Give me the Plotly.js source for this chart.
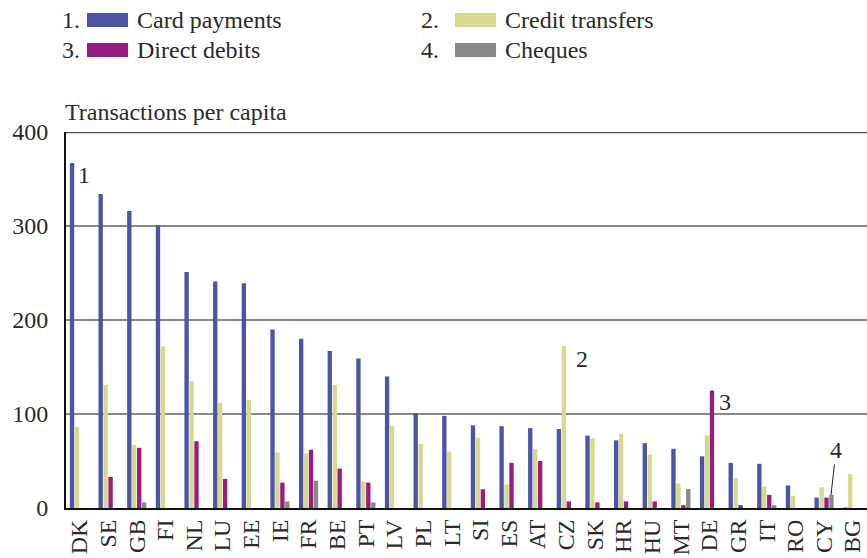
<!DOCTYPE html>
<html>
<head>
<meta charset="utf-8">
<script src="https://cdn.plot.ly/plotly-3.0.1.min.js"></script>
<style>html,body{margin:0;padding:0;background:#fff;}#chart{width:867px;height:558px;}</style>
</head>
<body>
<div id="chart"></div>
<script>
// ---- data ----
const countries = ["DK","SE","GB","FI","NL","LU","EE","IE","FR","BE","PT","LV","PL","LT","SI","ES","AT","CZ","SK","HR","HU","MT","DE","GR","IT","RO","CY","BG"];
const cardPayments    = [367,334,316,301,251,241,239,190,180,167,159,140,101,98,88,87,85,84,77,72,69,63,55,48,47,24,11,0.5];
const creditTransfers = [86,131,67,172,135,112,115,59,58,131,28,87,68,60,75,25,63,172,74,79,57,26,77,32,23,13,22,36];
const directDebits    = [0,33,64,0,71,31,0,27,62,42,27,0,0,0,20,48,50,7,6,7,7,3,125,3,14,0,11,0];
const cheques         = [0,0,6,0,0,0,0,7,29,0,6,0,0,0,0,0,0,0,0,0,0,20,0,0,3,0,14,0];
const seriesNames  = ["Card payments","Credit transfers","Direct debits","Cheques"];
const seriesNums   = ["1.","2.","3.","4."];
const yTicks = [0,100,200,300,400];
const yTitle = "Transactions per capita";

// ---- styles ----
const colors = ["#4d54a5","#d6d98b","#9a1c80","#888888"];
const FONT = "'Liberation Serif', 'DejaVu Serif', serif";
const TXT = "#2a2a2a";
const W = 867, H = 558, L = 66, R = 0, T = 132, B = 50;
const pw = W - L - R, ph = H - T - B;
const px = x => (x - L) / pw;           // pixel -> paper x
const py = y => (H - B - y) / ph;       // pixel -> paper y

const allSeries = [cardPayments, creditTransfers, directDebits, cheques];
const traces = allSeries.map((vals, k) => ({
  type: "bar", x: countries, y: vals, name: seriesNames[k],
  marker: {color: colors[k], line: {width: 0}}, showlegend: false, hoverinfo: "x+y+name"
}));

const shapes = [];
const annotations = [];
// legend built from series arrays
const legendPos = [[60, 20], [419, 20], [60, 50], [419, 50]];
const swatchX = [87, 455, 87, 455];
seriesNames.forEach((nm, k) => {
  const [lx, ly] = legendPos[k];
  annotations.push({xref: "paper", yref: "paper", x: px(lx), y: py(ly), xanchor: "left", yanchor: "middle",
    text: seriesNums[k], showarrow: false, font: {family: FONT, size: 24, color: TXT}});
  shapes.push({type: "rect", xref: "paper", yref: "paper", x0: px(swatchX[k]), x1: px(swatchX[k] + 41), y0: py(ly - 7), y1: py(ly + 7),
    fillcolor: colors[k], line: {width: 0}});
  annotations.push({xref: "paper", yref: "paper", x: px(swatchX[k] + 48), y: py(ly), xanchor: "left", yanchor: "middle",
    text: nm, showarrow: false, font: {family: FONT, size: 24, color: TXT}});
});
// y axis title
annotations.push({xref: "paper", yref: "paper", x: px(63), y: py(112), xanchor: "left", yanchor: "middle",
  text: yTitle, showarrow: false, font: {family: FONT, size: 24, color: TXT}});
// series callouts
const lab = {showarrow: false, font: {family: FONT, size: 24, color: TXT}, xanchor: "center", yanchor: "middle"};
annotations.push(Object.assign({}, lab, {x: countries[0], y: cardPayments[0], text: "1", xshift: 5, yshift: -12}));
annotations.push(Object.assign({}, lab, {x: countries[17], y: creditTransfers[17], text: "2", xshift: 16, yshift: -13}));
annotations.push(Object.assign({}, lab, {x: countries[22], y: directDebits[22], text: "3", xshift: 16, yshift: -11}));
annotations.push({x: countries[26], y: cheques[26], text: "4", xshift: 7, showarrow: true, arrowhead: 0, arrowwidth: 1,
  arrowcolor: "#222", ax: 5, ay: -45, standoff: 0, font: {family: FONT, size: 24, color: TXT}});
// top border line
shapes.push({type: "line", xref: "paper", yref: "y", x0: 0, x1: 1, y0: 400, y1: 400, line: {color: "#555", width: 2.5}});

const layout = {
  width: W, height: H,
  margin: {l: L, r: R, t: T, b: B, pad: 0},
  paper_bgcolor: "#fff", plot_bgcolor: "#fff",
  barmode: "group", bargap: 0.31, bargroupgap: 0.12,
  font: {family: FONT, size: 24, color: TXT},
  xaxis: {type: "category", range: [-0.47, 27.5], tickangle: -90, ticks: "", showgrid: false,
    tickmode: "array", tickvals: countries, ticktext: countries,
    showline: true, linecolor: "#111", linewidth: 2, tickfont: {family: FONT, size: 24, color: TXT}, fixedrange: true},
  yaxis: {range: [0, 400], tickvals: yTicks, ticktext: yTicks.map(String), ticks: "", ticklabelstandoff: 11,
    showgrid: true, gridcolor: "#888", gridwidth: 1.5, zeroline: false,
    showline: true, linecolor: "#111", linewidth: 2, tickfont: {family: FONT, size: 24, color: TXT}, fixedrange: true},
  shapes: shapes, annotations: annotations, showlegend: false
};
Plotly.newPlot("chart", traces, layout, {displayModeBar: false, staticPlot: true});
</script>
</body>
</html>
